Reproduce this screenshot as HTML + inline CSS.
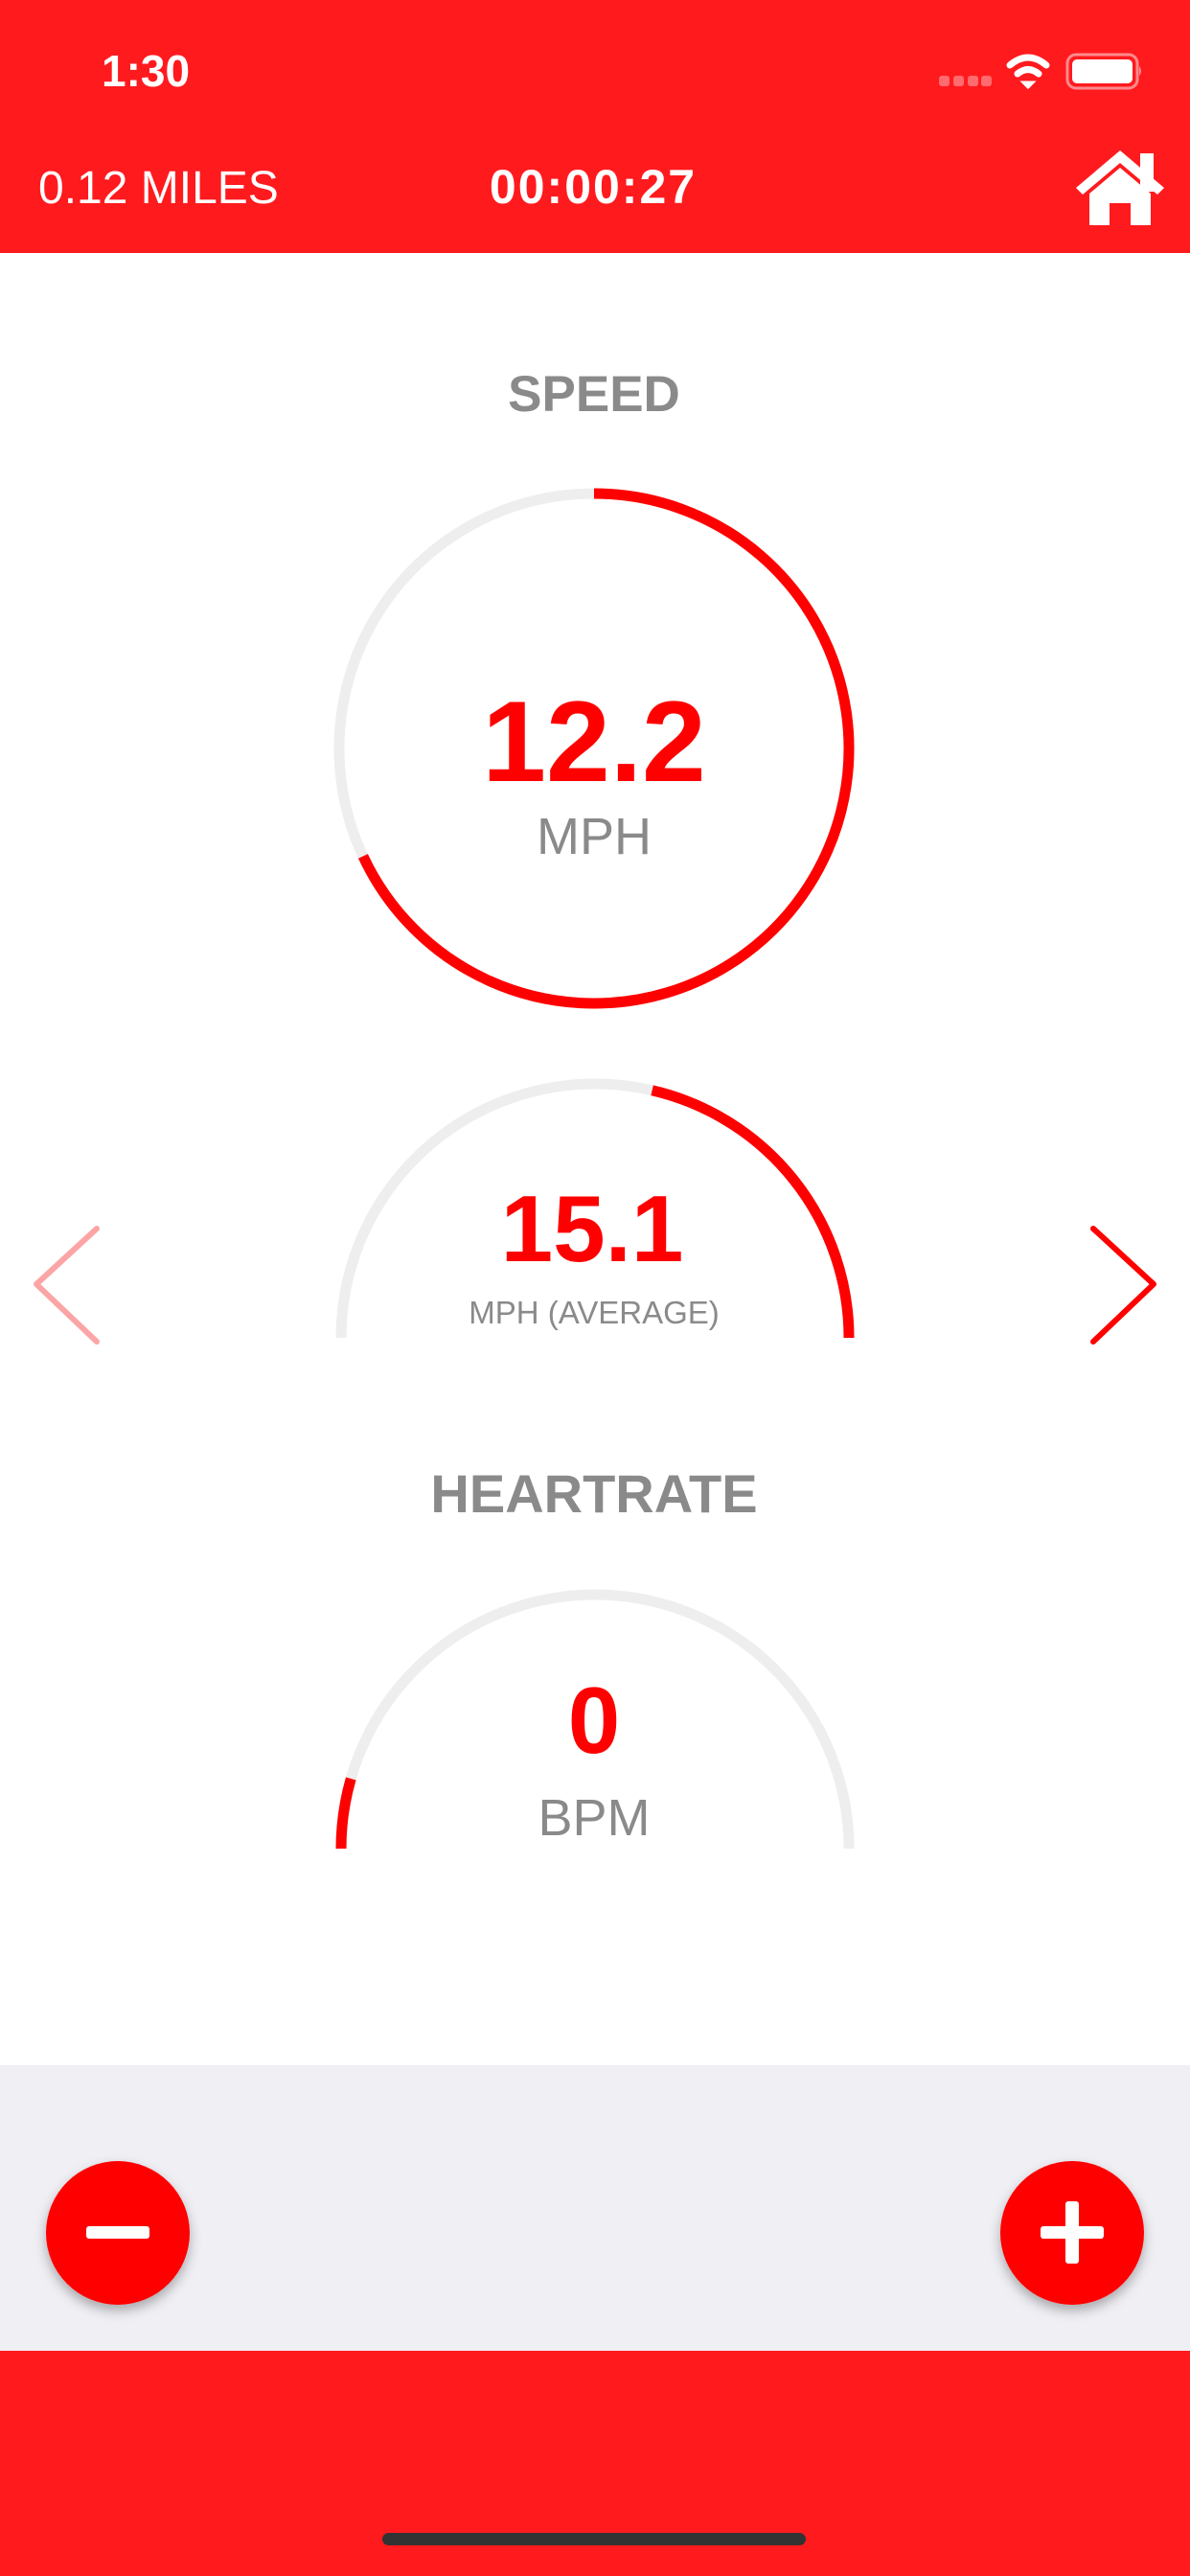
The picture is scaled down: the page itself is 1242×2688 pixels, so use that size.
<!DOCTYPE html>
<html><head><meta charset="utf-8">
<style>
html,body{margin:0;padding:0;width:1242px;height:2688px;overflow:hidden;background:#fff;font-family:"Liberation Sans",Arial,sans-serif;}
svg{display:block}
</style></head>
<body>
<svg width="1242" height="2688" viewBox="0 0 1242 2688" xmlns="http://www.w3.org/2000/svg">
  <defs>
    <filter id="sh" x="-30%" y="-30%" width="160%" height="170%">
      <feDropShadow dx="0" dy="6" stdDeviation="6" flood-color="#000" flood-opacity="0.3"/>
    </filter>
  </defs>
  <rect x="0" y="0" width="1242" height="264" fill="#ff1a1e"/>
  <text x="106" y="90" font-size="46" font-weight="bold" fill="#fff">1:30</text>
  <g fill="#ff6b6e">
    <rect x="980" y="79" width="11" height="11" rx="3"/><rect x="995" y="79" width="11" height="11" rx="3"/>
    <rect x="1010" y="79" width="11" height="11" rx="3"/><rect x="1024" y="79" width="11" height="11" rx="3"/>
  </g>
  <g fill="none" stroke="#fff" stroke-width="7" stroke-linecap="round">
    <path d="M1054 68 Q1073 52 1092 68"/><path d="M1062 77 Q1073 68 1084 77"/>
    <path d="M1068 86 L1073 91 L1078 86 Z" fill="#fff" stroke-width="3"/>
  </g>
  <g>
    <rect x="1114" y="57" width="73" height="35" rx="9" fill="none" stroke="#ff8a8c" stroke-width="3"/>
    <rect x="1119" y="62" width="63" height="25" rx="5" fill="#fff"/>
    <path d="M1189 69 q4 5 0 10 z" fill="#ff8a8c"/>
  </g>
  <text x="40" y="212" font-size="48" fill="#fff">0.12 MILES</text>
  <text x="619" y="212" font-size="50" font-weight="bold" fill="#fff" text-anchor="middle" letter-spacing="2">00:00:27</text>
  <g fill="#fff">
    <rect x="1190" y="160" width="14" height="40"/>
    <path d="M1123 196 L1169 157 L1215 196 L1208 203 L1169 170 L1130 203 Z"/>
    <path d="M1137 202 L1169 175 L1201 202 L1201 235 L1180 235 L1180 212 L1158 212 L1158 235 L1137 235 Z"/>
  </g>

  <text x="620" y="429" font-size="53" font-weight="bold" fill="#8a8a8a" text-anchor="middle">SPEED</text>
  <g id="g1"></g>
  <text x="620" y="815" font-size="120" font-weight="bold" fill="#ff0000" text-anchor="middle">12.2</text>
  <text x="620" y="891" font-size="54" fill="#8a8a8a" text-anchor="middle">MPH</text>

  <g id="g2"></g>
  <text x="618" y="1316" font-size="98" font-weight="bold" fill="#ff0000" text-anchor="middle">15.1</text>
  <text x="620" y="1381" font-size="33" fill="#8a8a8a" text-anchor="middle">MPH (AVERAGE)</text>
  <polyline points="101,1282 38,1340 101,1400" fill="none" stroke="#fca5a6" stroke-width="6" stroke-linecap="round" stroke-linejoin="round"/>
  <polyline points="1141,1282 1204,1340 1141,1400" fill="none" stroke="#ff0000" stroke-width="6" stroke-linecap="round" stroke-linejoin="round"/>

  <text x="620" y="1578" font-size="56" font-weight="bold" fill="#8a8a8a" text-anchor="middle">HEARTRATE</text>
  <g id="g3"></g>
  <text x="620" y="1829" font-size="98" font-weight="bold" fill="#ff0000" text-anchor="middle">0</text>
  <text x="620" y="1915" font-size="54" fill="#8a8a8a" text-anchor="middle">BPM</text>

  <rect x="0" y="2155" width="1242" height="298" fill="#efeff4"/>
  <g>
    <circle cx="123" cy="2330" r="75" fill="#ff0000" filter="url(#sh)"/>
    <rect x="90" y="2323" width="66" height="13" rx="3" fill="#fff"/>
  </g>
  <g>
    <circle cx="1119" cy="2330" r="75" fill="#ff0000" filter="url(#sh)"/>
    <rect x="1086" y="2323" width="66" height="13" rx="3" fill="#fff"/>
    <rect x="1112" y="2297" width="14" height="65" rx="3" fill="#fff"/>
  </g>
  <rect x="0" y="2453" width="1242" height="235" fill="#ff1a1e"/>
  <rect x="399" y="2643" width="442" height="13" rx="6.5" fill="#333"/>
</svg>
<script>
// gauge data: red arc angles (deg clockwise from top)
const gaugeNames = ['speed', 'average-speed', 'heartrate'];
const gaugeStart = [0, 13, -90];
const gaugeEnd = [245, 90, -74];
const NS = 'http://www.w3.org/2000/svg';
function pt(cx, cy, r, a){const t=(a-90)*Math.PI/180;return [cx+r*Math.cos(t), cy+r*Math.sin(t)];}
function arc(cx, cy, r, a0, a1){
  const p0=pt(cx,cy,r,a0), p1=pt(cx,cy,r,a1);
  const large = (a1-a0)>180?1:0;
  return `M${p0[0]} ${p0[1]} A${r} ${r} 0 ${large} 1 ${p1[0]} ${p1[1]}`;
}
function addPath(g, d, color, name){
  const p=document.createElementNS(NS,'path');
  p.setAttribute('d', d); p.setAttribute('fill','none');
  p.setAttribute('stroke', color); p.setAttribute('stroke-width','11');
  
  
  g.appendChild(p);
}
const geo = [{id:'g1',cx:620,cy:781,r:266,t0:0,t1:359.99},{id:'g2',cx:621,cy:1396,r:265,t0:-90,t1:90},{id:'g3',cx:621,cy:1929,r:265,t0:-90,t1:90}];
geo.forEach((o,i)=>{
  const g=document.getElementById(o.id);
  addPath(g, arc(o.cx,o.cy,o.r,o.t0,o.t1), '#eeeeee', gaugeNames[i]+'-track');
  addPath(g, arc(o.cx,o.cy,o.r,gaugeStart[i],gaugeEnd[i]), '#ff0000', gaugeNames[i]+'-progress');
});
</script>
</body></html>
